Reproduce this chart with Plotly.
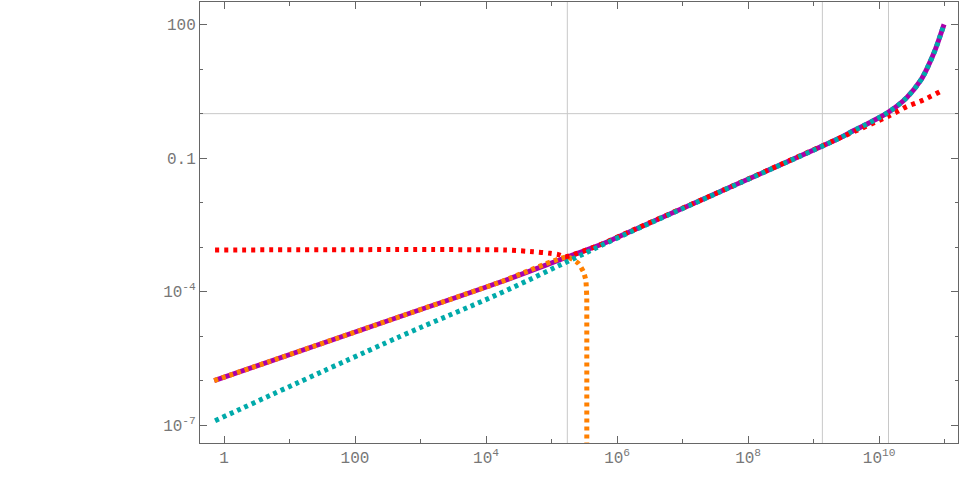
import math
import plotly.graph_objects as go

# ---- data (log-log plot) ----
purple_x = [0.708, 490, 1.62e4, 1.74e5, 5.9e5, 1.12e6, 3.7e7, 2.45e9, 4.1e9, 7.9e9,
            1.41e10, 2.63e10, 4.27e10, 5.6e10, 7.2e10, 8.5e10, 9.8e10]
purple_y = [1.0e-6, 2.75e-5, 1.62e-4, 5.98e-4, 1.17e-3, 1.78e-3, 0.0176, 0.279, 0.417, 0.676,
            1.10, 2.29, 5.50, 11.7, 27.5, 55.0, 102.0]

orange_x = [0.708, 490, 1.62e4, 1.74e5, 2.56e5, 3.06e5, 3.33e5, 3.44e5, 3.45e5, 3.45e5]
orange_y = [1.0e-6, 2.75e-5, 1.62e-4, 5.98e-4, 4.32e-4, 2.80e-4, 1.82e-4, 7.9e-5, 1.3e-5, 1e-9]

red_x = [0.73, 1.95e4, 5.25e4, 9.5e4, 1.27e5, 1.61e5, 5.9e5, 1.12e6, 3.7e7, 2.45e9,
         1.41e10, 2.63e10, 4.74e10, 8.5e10]
red_y = [8.6e-4, 8.6e-4, 7.87e-4, 7.24e-4, 6.78e-4, 6.08e-4, 1.17e-3, 1.80e-3, 0.0176, 0.279,
         0.885, 1.44, 2.03, 3.12]

teal_x = [0.73, 486, 1.64e4, 1.73e5, 1.11e6, 3.7e7, 2.45e9, 4.1e9, 7.9e9,
          1.41e10, 2.63e10, 4.27e10, 5.6e10, 7.2e10, 8.5e10, 9.8e10]
teal_y = [1.25e-7, 9.77e-6, 9.14e-5, 4.69e-4, 1.71e-3, 0.0174, 0.279, 0.417, 0.676,
          1.10, 2.29, 5.50, 11.7, 27.5, 55.0, 102.0]

grid_x = [1.74e5, 1.36e9, 1.39e10]
grid_y = [1.0]

x_tickvals = [1, 100, 1e4, 1e6, 1e8, 1e10]
x_ticktext = ["1", "100", "10<sup>4</sup>", "10<sup>6</sup>", "10<sup>8</sup>", "10<sup>10</sup>"]
x_minor = [10, 1e3, 1e5, 1e7, 1e9, 1e11]
y_tickvals = [1e-7, 1e-4, 0.1, 100]
y_ticktext = ["10<sup>-7</sup>", "10<sup>-4</sup>", "0.1", "100"]
y_minor = [1e-6, 1e-5, 1e-3, 1e-2, 1, 10]

x_range = [0.43, 1.6e11]
y_range = [3.94e-8, 324.0]

fig = go.Figure()

# grid lines
for gx in grid_x:
    fig.add_trace(go.Scatter(x=[gx, gx], y=[1e-10, 1e5], mode="lines",
                             line=dict(color="#c8c8c8", width=1),
                             hoverinfo="skip", showlegend=False))
for gy in grid_y:
    fig.add_trace(go.Scatter(x=[0.01, 1e13], y=[gy, gy], mode="lines",
                             line=dict(color="#c8c8c8", width=1),
                             hoverinfo="skip", showlegend=False))

dot = "4px,4px"
fig.add_trace(go.Scatter(x=purple_x, y=purple_y, mode="lines",
                         line=dict(color="#AA00AA", width=5, shape="spline", smoothing=1.0),
                         showlegend=False))
fig.add_trace(go.Scatter(x=orange_x, y=orange_y, mode="lines",
                         line=dict(color="#FF8000", width=5, dash=dot, shape="spline", smoothing=0.5),
                         showlegend=False))
fig.add_trace(go.Scatter(x=red_x, y=red_y, mode="lines",
                         line=dict(color="#FF0000", width=5, dash="4px,5px", shape="spline", smoothing=0.6),
                         showlegend=False))
fig.add_trace(go.Scatter(x=teal_x, y=teal_y, mode="lines",
                         line=dict(color="#00AAAA", width=5, dash=dot, shape="spline", smoothing=1.0),
                         showlegend=False))

axis_common = dict(
    type="log", showgrid=False, zeroline=False,
    showline=True, linecolor="#666666", linewidth=1, mirror="allticks",
    ticks="inside", ticklen=7, tickwidth=1, tickcolor="#666666",
    tickfont=dict(family="Liberation Mono", size=16, color="#777777"),
)

fig.update_xaxes(**axis_common, range=[math.log10(v) for v in x_range],
                 tickmode="array", tickvals=x_tickvals, ticktext=x_ticktext,
                 minor=dict(tickmode="array", tickvals=x_minor, ticks="inside",
                            ticklen=4, tickcolor="#666666", showgrid=False))
fig.update_yaxes(**axis_common, range=[math.log10(v) for v in y_range],
                 tickmode="array", tickvals=y_tickvals, ticktext=y_ticktext,
                 minor=dict(tickmode="array", tickvals=y_minor, ticks="inside",
                            ticklen=3, tickcolor="#666666", showgrid=False))

fig.update_layout(width=960, height=503,
                  margin=dict(l=200, r=2, t=2, b=60),
                  paper_bgcolor="white", plot_bgcolor="white")

fig.write_html("out.html", config={"displayModeBar": False},
               post_script="document.body.style.margin='0';document.body.style.overflow='hidden';")
